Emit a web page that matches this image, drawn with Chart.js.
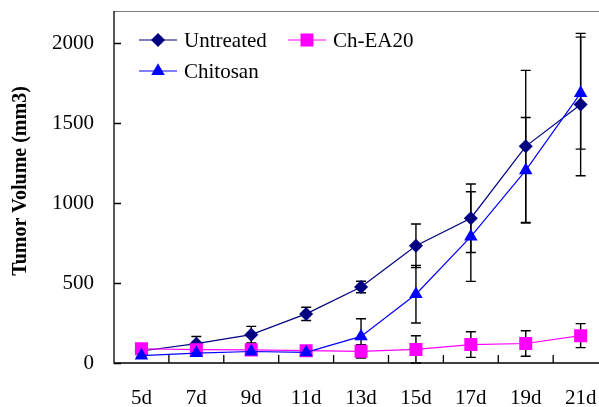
<!DOCTYPE html>
<html>
<head>
<meta charset="utf-8">
<script src="https://cdn.jsdelivr.net/npm/chart.js@4/dist/chart.umd.min.js"></script>
<style>
  html, body { margin: 0; padding: 0; overflow: hidden; background: #fff; }
  #wrap { width: 620px; height: 407px; }
</style>
</head>
<body>
<div id="wrap"><canvas id="c"></canvas></div>
<script>
const jours = ["5d", "7d", "9d", "11d", "13d", "15d", "17d", "19d", "21d"];
const untreated   = [75, 121, 177, 307, 475, 733, 905, 1354, 1615];
const untreatedSd = [15, 45, 52, 41, 36, 136, 214, 475, 445];
const chitosan    = [46, 62, 72, 66, 166, 430, 790, 1204, 1687];
const chitosanSd  = [8, 12, 12, 8, 111, 180, 280, 330, 350];
const chEA20      = [89, 83, 82, 77, 73, 85, 115, 122, 171];
const chEA20Sd    = [10, 12, 10, 10, 42, 85, 80, 80, 75];
const yTicks = [0, 500, 1000, 1500, 2000];

const serif = "'Liberation Serif', 'Times New Roman', serif";

// Barres d'erreur noires avec petites barres horizontales, sous les marqueurs.
const barres = {
  id: "barres",
  beforeDatasetsDraw(chart) {
    const { ctx, scales: { x, y } } = chart;
    ctx.save();
    ctx.strokeStyle = "#000";
    ctx.lineWidth = 1.4;
    chart.data.datasets.forEach((ds) => {
      ds.data.forEach((v, i) => {
        const px = x.getPixelForValue(i);
        const hi = y.getPixelForValue(v + ds.sd[i]);
        const lo = y.getPixelForValue(Math.max(0, v - ds.sd[i]));
        ctx.beginPath();
        ctx.moveTo(px, hi); ctx.lineTo(px, lo);
        ctx.moveTo(px - 5, hi); ctx.lineTo(px + 5, hi);
        ctx.moveTo(px - 5, lo); ctx.lineTo(px + 5, lo);
        ctx.stroke();
      });
    });
    ctx.restore();
  },
};

// Cadre : axes noirs, bord haut gris, graduations tournées vers l'intérieur,
// titre de l'axe Y.
const cadre = {
  id: "cadre",
  beforeDatasetsDraw(chart) {
    const { ctx, chartArea: a, scales: { x, y } } = chart;
    ctx.save();
    ctx.lineWidth = 1;
    ctx.strokeStyle = "#808080";
    ctx.beginPath();
    ctx.moveTo(a.left, a.top + 0.5); ctx.lineTo(a.right + 20, a.top + 0.5);
    ctx.stroke();
    ctx.strokeStyle = "#000";
    ctx.lineWidth = 1.3;
    ctx.beginPath();
    ctx.moveTo(a.left, a.top); ctx.lineTo(a.left, a.bottom); ctx.lineTo(a.right + 20, a.bottom);
    yTicks.forEach((t) => {
      const py = Math.round(y.getPixelForValue(t)) + 0.5;
      ctx.moveTo(a.left, py); ctx.lineTo(a.left + 7, py);
    });
    for (let i = 1; i < jours.length; i++) {
      const px = (x.getPixelForValue(i - 1) + x.getPixelForValue(i)) / 2;
      ctx.moveTo(px, a.bottom); ctx.lineTo(px, a.bottom - 8);
    }
    ctx.stroke();

    ctx.translate(21, 181);
    ctx.rotate(-Math.PI / 2);
    ctx.font = "bold 20px " + serif;
    ctx.fillStyle = "#000";
    ctx.textAlign = "center";
    ctx.textBaseline = "middle";
    ctx.fillText("Tumor Volume (mm3)", 0, 0);
    ctx.restore();
  },
};

// Légende sur deux lignes, dans le coin haut gauche de la zone de tracé.
const legende = {
  id: "legende",
  afterDraw(chart) {
    const { ctx } = chart;
    const items = [
      { ds: chart.data.datasets[0], x: 139, y: 40 },
      { ds: chart.data.datasets[2], x: 288, y: 40 },
      { ds: chart.data.datasets[1], x: 139, y: 71 },
    ];
    ctx.save();
    ctx.font = "21px " + serif;
    ctx.textBaseline = "middle";
    items.forEach(({ ds, x, y }) => {
      ctx.strokeStyle = ds.borderColor;
      ctx.lineWidth = 1;
      ctx.beginPath();
      ctx.moveTo(x, y); ctx.lineTo(x + 38, y);
      ctx.stroke();
      ctx.fillStyle = ds.pointBackgroundColor;
      Chart.helpers.drawPoint(ctx, {
        pointStyle: ds.pointStyle, radius: ds.pointRadius, rotation: 0, borderWidth: 0,
      }, x + 19, y);
      ctx.fillStyle = "#000";
      ctx.fillText(ds.label, x + 45, y + 1);
    });
    ctx.restore();
  },
};

const serie = (label, data, sd, color, style, r, order) => ({
  label, data, sd, order,
  borderColor: color,
  backgroundColor: color,
  pointBackgroundColor: color,
  pointBorderColor: color,
  pointBorderWidth: 0,
  pointStyle: style,
  pointRadius: r,
  pointHoverRadius: r,
  borderWidth: 1.2,
  tension: 0,
  fill: false,
});

new Chart(document.getElementById("c"), {
  type: "line",
  data: {
    labels: jours,
    datasets: [
      serie("Untreated", untreated, untreatedSd, "#000080", "rectRot", 7, 2),
      serie("Chitosan", chitosan, chitosanSd, "#0000ff", "triangle", 7.8, 0),
      serie("Ch-EA20", chEA20, chEA20Sd, "#ff00ff", "rect", 9.2, 1),
    ],
  },
  options: {
    responsive: true,
    maintainAspectRatio: false,
    animation: false,
    layout: { padding: { top: 11, right: 11, left: 0, bottom: 0 } },
    plugins: { legend: { display: false }, tooltip: { enabled: false } },
    scales: {
      x: {
        offset: true,
        grid: { display: false, drawTicks: false },
        border: { display: false },
        ticks: { color: "#000", padding: 23, font: { family: serif, size: 21 }, maxRotation: 0 },
        afterFit: (s) => { s.height = 44; },
      },
      y: {
        min: 0,
        max: 2200,
        grid: { display: false, drawTicks: false },
        border: { display: false },
        afterBuildTicks: (s) => { s.ticks = yTicks.map((v) => ({ value: v })); },
        ticks: {
          color: "#000", padding: 20, font: { family: serif, size: 21 },
          callback: (v) => String(v),
        },
        afterFit: (s) => { s.width = 114; s.paddingTop = 0; s.paddingBottom = 0; },
      },
    },
  },
  plugins: [barres, cadre, legende],
});
</script>
</body>
</html>
